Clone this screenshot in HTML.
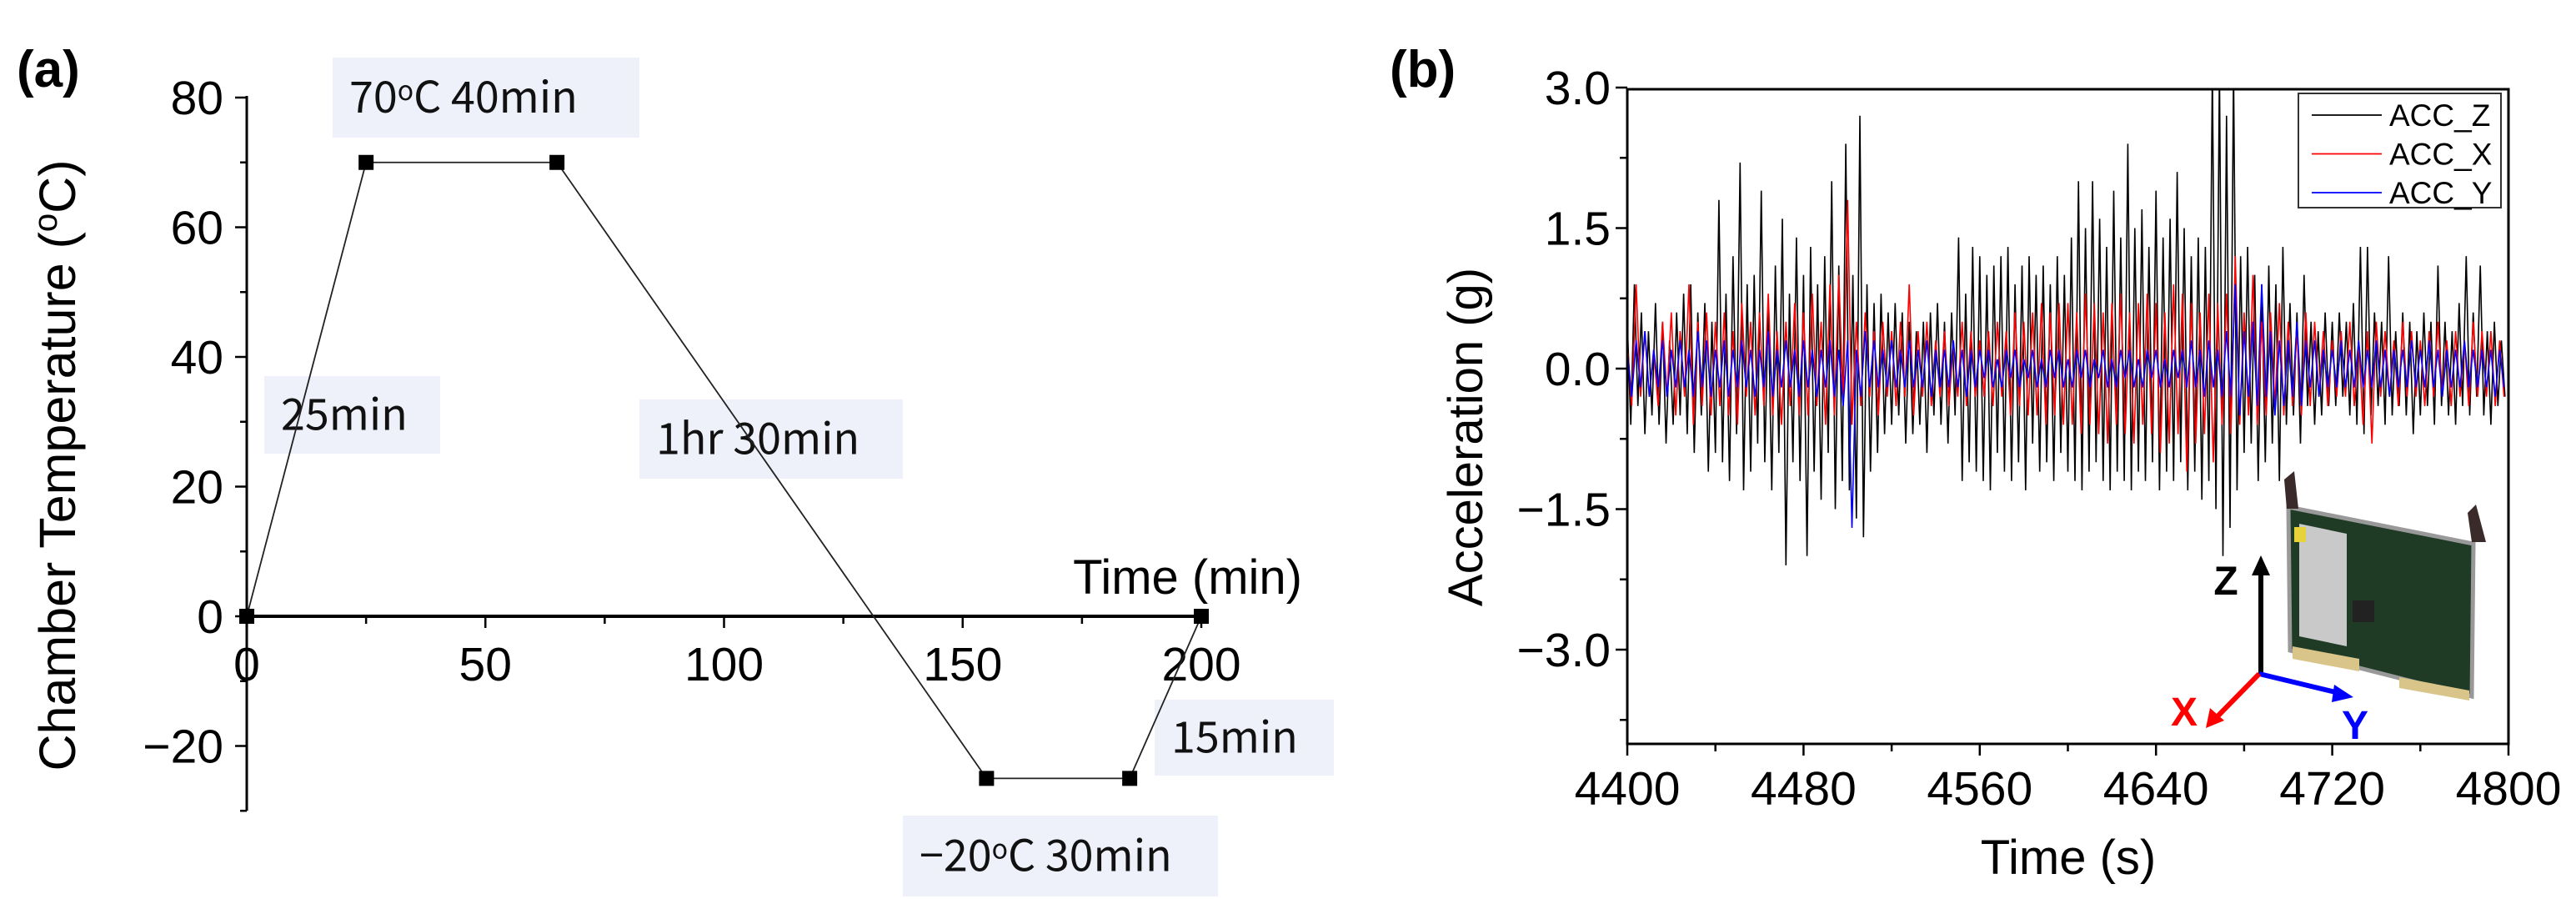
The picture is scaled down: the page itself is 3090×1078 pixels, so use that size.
<!DOCTYPE html>
<html><head><meta charset="utf-8"><style>
html,body{margin:0;padding:0;background:#fff;}
svg{display:block;}
text{font-family:"Liberation Sans",sans-serif;}
.ann{font-family:"Noto Sans CJK KR","Liberation Sans",sans-serif;font-size:52px;fill:#111;}
</style></head><body>
<svg id="fig" width="3090" height="1078" viewBox="0 0 3090 1078" xmlns="http://www.w3.org/2000/svg">
<defs><clipPath id="clipB"><rect x="1952" y="107" width="1057" height="785"/></clipPath></defs>
<g id="pa"></g>
<g id="pb"></g>
</svg>
<script>
// ---------- Panel (a) data ----------
const tempTimes = [0, 25, 65, 155, 185, 200];
const tempValues = [0, 70, 70, -25, -25, 0];
const aXTicks = [0, 50, 100, 150, 200];
const aYTicks = [-20, 0, 20, 40, 60, 80];
const aYTickLabels = ["\u221220", "0", "20", "40", "60", "80"];

// ---------- Panel (b) data ----------
const bXTicks = [4400, 4480, 4560, 4640, 4720, 4800];
const bYTicks = [-3.0, -1.5, 0.0, 1.5, 3.0];
const bYTickLabels = ["\u22123.0", "\u22121.5", "0.0", "1.5", "3.0"];
const accZStart = 4400, accZStep = 1.6;
const accZ = [0.5,-0.6,0.9,-0.4,0.6,-0.7,0.4,-0.5,0.7,-0.6,0.5,-0.8,0.3,-0.6,0.6,-0.5,0.8,-0.7,0.9,-0.9,0.6,-0.5,0.7,-1.1,0.5,
-0.9,1.8,-1.0,0.8,-1.2,1.2,-0.7,2.2,-1.3,0.9,-1.1,1.0,-0.8,1.9,-1.0,0.7,-1.3,1.1,-0.9,1.6,-2.1,0.8,-1.0,1.4,-1.2,
1.0,-2.0,1.3,-1.1,0.9,-1.4,1.2,-0.9,2.0,-1.5,1.1,-1.2,2.4,-1.3,1.0,-1.6,2.7,-1.8,0.9,-1.1,0.7,-0.9,0.8,-0.7,0.6,
-0.6,0.7,-0.5,0.6,-0.8,0.5,-0.7,0.4,-0.6,0.5,-0.9,0.6,-0.5,0.7,-0.6,0.5,-0.8,0.6,-0.5,1.4,-1.2,0.8,-1.0,1.3,-1.1,
1.2,-1.2,1.0,-1.3,1.1,-0.9,1.2,-1.1,1.3,-1.2,0.9,-1.0,1.1,-1.3,1.2,-0.8,1.0,-1.1,1.1,-1.0,0.9,-1.2,1.2,-0.9,1.0,
-1.1,1.4,-1.2,2.0,-1.3,1.5,-1.1,2.0,-1.0,1.6,-1.2,1.3,-1.3,1.9,-1.1,1.4,-1.2,2.4,-1.3,1.5,-1.1,1.7,-1.2,1.3,-1.0,
1.9,-1.3,1.4,-1.1,1.6,-1.2,2.1,-1.0,1.5,-1.3,1.2,-1.1,1.4,-1.4,1.3,-1.2,3.2,-1.5,3.2,-2.0,2.7,-1.7,3.2,-1.3,1.2,
-0.9,1.3,-0.8,1.0,-1.2,0.9,-1.0,1.1,-0.8,0.9,-1.2,1.3,-0.6,0.7,-0.5,0.6,-0.8,1.0,-0.4,0.5,-0.6,0.4,-0.5,0.6,-0.4,
0.5,-0.4,0.6,-0.3,0.5,-0.5,0.7,-0.6,1.3,-0.7,1.3,-0.5,0.6,-0.4,0.5,-0.6,1.2,-0.5,0.4,-0.4,0.6,-0.5,0.5,-0.7,0.4,
-0.5,0.6,-0.4,0.5,-0.6,1.1,-0.4,0.5,-0.5,0.4,-0.6,0.7,-0.4,1.2,-0.5,0.6,-0.3,1.1,-0.5,0.4,-0.6,0.5,-0.4,0.3,-0.3];
const accXStart = 4400, accXStep = 2.0;
const accX = [0.3,-0.4,0.9,-0.3,0.4,-0.3,0.2,-0.4,0.5,-0.3,0.6,-0.5,0.4,-0.3,0.9,-0.6,0.5,-0.4,0.6,-0.5,
0.5,-0.4,0.6,-0.5,0.4,-0.6,0.7,-0.3,0.5,-0.5,0.6,-0.4,0.8,-0.5,0.4,-0.6,0.5,-0.4,0.7,-0.5,
0.6,-0.5,0.8,-0.4,0.5,-0.6,0.9,-0.5,1.0,-0.4,1.8,-0.6,0.5,-0.4,0.6,-0.3,0.4,-0.5,0.5,-0.3,
0.4,-0.4,0.5,-0.3,0.9,-0.5,0.4,-0.3,0.5,-0.4,0.3,-0.3,0.4,-0.4,0.3,-0.3,0.5,-0.4,0.4,-0.3,
0.3,-0.3,0.4,-0.4,0.5,-0.3,0.4,-0.5,0.6,-0.4,0.5,-0.5,0.6,-0.5,0.7,-0.6,0.6,-0.5,0.7,-0.6,
0.7,-0.6,0.6,-0.7,0.8,-0.6,0.7,-0.7,0.6,-0.8,0.7,-0.6,0.8,-0.7,0.6,-0.8,0.7,-0.6,0.8,-0.7,
0.7,-0.9,0.6,-0.8,0.9,-0.7,0.8,-1.1,0.7,-0.8,0.6,-0.7,0.8,-1.0,0.7,-0.6,0.8,-0.7,1.2,-0.6,
0.6,-0.5,1.0,-0.6,0.5,-0.5,0.6,-0.4,0.7,-0.5,0.5,-0.4,0.4,-0.5,0.6,-0.4,0.5,-0.3,0.4,-0.4,
0.3,-0.3,0.4,-0.3,0.5,-0.4,0.3,-0.6,0.4,-0.8,0.5,-0.3,0.4,-0.3,0.3,-0.4,0.5,-0.3,0.4,-0.3,
0.3,-0.4,0.4,-0.3,0.5,-0.3,0.3,-0.4,0.4,-0.3,0.3,-0.4,0.5,-0.3,0.4,-0.3,0.4,-0.4,0.3,-0.3];
const accYStart = 4400, accYStep = 2.0;
const accY = [0.2,-0.3,0.3,-0.2,0.4,-0.3,0.2,-0.2,0.3,-0.3,0.2,-0.2,0.3,-0.2,0.2,-0.3,0.4,-0.2,0.3,-0.3,
0.2,-0.2,0.3,-0.3,0.2,-0.2,0.3,-0.2,0.2,-0.3,0.2,-0.2,0.4,-0.3,0.2,-0.2,0.3,-0.2,0.2,-0.3,
0.3,-0.2,0.2,-0.3,0.2,-0.2,0.3,-0.3,0.2,-0.4,0.3,-1.7,0.2,-0.3,0.4,-0.2,0.3,-0.2,0.2,-0.2,
0.3,-0.2,0.2,-0.2,0.3,-0.2,0.2,-0.2,0.3,-0.3,0.2,-0.2,0.2,-0.2,0.3,-0.2,0.2,-0.3,0.2,-0.2,
0.2,-0.1,0.2,-0.2,0.1,-0.2,0.2,-0.1,0.2,-0.2,0.1,-0.1,0.2,-0.2,0.1,-0.2,0.2,-0.1,0.2,-0.2,
0.1,-0.2,0.2,-0.1,0.2,-0.2,0.1,-0.1,0.2,-0.2,0.1,-0.2,0.2,-0.1,0.2,-0.2,0.1,-0.2,0.2,-0.1,
0.2,-0.2,0.1,-0.2,0.2,-0.1,0.2,-0.2,0.3,-0.2,0.2,-0.3,0.3,-0.2,0.2,-0.3,0.4,-0.3,0.9,-0.5,
0.4,-0.3,0.5,-0.4,0.9,-0.3,0.4,-0.5,0.3,-0.4,0.3,-0.3,0.5,-0.4,0.3,-0.2,0.3,-0.3,0.2,-0.2,
0.2,-0.2,0.3,-0.2,0.2,-0.2,0.3,-0.2,0.2,-0.2,0.3,-0.2,0.2,-0.3,0.2,-0.2,0.2,-0.2,0.3,-0.2,
0.2,-0.2,0.3,-0.2,0.2,-0.3,0.2,-0.2,0.2,-0.2,0.3,-0.2,0.2,-0.2,0.2,-0.2,0.2,-0.3,0.2,-0.2];
const seriesNames = ["ACC_Z", "ACC_X", "ACC_Y"];

const NS = "http://www.w3.org/2000/svg";
function mk(parent, tag, attrs, text) {
  const e = document.createElementNS(NS, tag);
  for (const k in attrs) e.setAttribute(k, attrs[k]);
  if (text !== undefined) e.textContent = text;
  parent.appendChild(e);
  return e;
}

// ===== Panel A =====
const pa = document.getElementById('pa');
const ax = v => 296 + (v - 0) * (1441 - 296) / 200;
const ay = v => 739 - v * (622 / 80);

const anns = [
  [399, 69, 368, 96, "70\u00B0C 40min", "annotation-70c-40min"],
  [317, 451, 211, 93, "25min", "annotation-25min"],
  [767, 479, 316, 95, "1hr 30min", "annotation-1hr-30min"],
  [1385, 839, 215, 91, "15min", "annotation-15min"],
  [1083, 978, 378, 97, "\u221220\u00B0C 30min", "annotation-minus20c-30min"]
];
anns.forEach(a => {
  const g = mk(pa, 'g', {});
  
  
  mk(g, 'rect', {x: a[0], y: a[1], width: a[2], height: a[3], fill: '#eef0fa'});
  const t = mk(g, 'text', {x: a[0] + 20, y: a[1] + a[3] / 2 + 18, class: 'ann'}, a[4]);
  if (a[4].indexOf('\u00B0') >= 0) {
    t.textContent = '';
    const parts = a[4].split('\u00B0');
    mk(t, 'tspan', {}, parts[0]);
    mk(t, 'tspan', {dy: -15, 'font-size': 32}, 'o');
    mk(t, 'tspan', {dy: 15}, parts[1]);
  }
});

const yaxis = mk(pa, 'g', {});


mk(yaxis, 'line', {x1: 296, y1: ay(80) - 2, x2: 296, y2: ay(-30), stroke: '#000', 'stroke-width': 3});
for (let v = -30; v <= 80; v += 10) {
  const major = aYTicks.indexOf(v) >= 0;
  mk(yaxis, 'line', {x1: major ? 282 : 288, y1: ay(v), x2: 296, y2: ay(v), stroke: '#000', 'stroke-width': 2.5});
}
aYTicks.forEach((v, i) => {
  const t = mk(yaxis, 'text', {x: 268, y: ay(v) + 20, 'text-anchor': 'end', 'font-size': 57}, aYTickLabels[i]);
  
  
});
const xaxis = mk(pa, 'g', {});


mk(xaxis, 'line', {x1: ax(0), y1: ay(0), x2: ax(200), y2: ay(0), stroke: '#000', 'stroke-width': 4});
for (let v = 0; v <= 200; v += 25) {
  const major = aXTicks.indexOf(v) >= 0;
  mk(xaxis, 'line', {x1: ax(v), y1: ay(0), x2: ax(v), y2: ay(0) + (major ? 14 : 9), stroke: '#000', 'stroke-width': 2.5});
}
aXTicks.forEach(v => {
  const t = mk(xaxis, 'text', {x: ax(v), y: 816, 'text-anchor': 'middle', 'font-size': 57}, String(v));
  
  
});
const xt = mk(pa, 'text', {x: 1562, y: 712, 'text-anchor': 'end', 'font-size': 58}, 'Time (min)');


const yt = mk(pa, 'text', {x: 0, y: 0, 'text-anchor': 'middle', 'font-size': 61, transform: 'translate(90,558) rotate(-90)'});


mk(yt, 'tspan', {}, 'Chamber Temperature (');
mk(yt, 'tspan', {dy: -22, 'font-size': 40}, 'o');
mk(yt, 'tspan', {dy: 22}, 'C)');
const la = mk(pa, 'text', {x: 20, y: 104, 'font-size': 62, 'font-weight': 'bold'}, '(a)');



const tpts = tempTimes.map((t, i) => ax(t) + ',' + ay(tempValues[i])).join(' ');
const tl = mk(pa, 'polyline', {points: tpts, fill: 'none', stroke: '#222', 'stroke-width': 1.8});


tempTimes.forEach((t, i) => {
  const m = mk(pa, 'rect', {x: ax(t) - 9, y: ay(tempValues[i]) - 9, width: 18, height: 18, fill: '#000'});
  
  
});

// ===== Panel B =====
const pb = document.getElementById('pb');
const bx = v => 1952 + (v - 4400) * (3009 - 1952) / 400;
const by = v => 442 - v * (168.5 / 1.5);

const lb = mk(pb, 'text', {x: 1667, y: 104, 'font-size': 62, 'font-weight': 'bold'}, '(b)');



const series = [[accZ, accZStart, accZStep, '#000', 'acc-z-line'], [accX, accXStart, accXStep, '#ff0000', 'acc-x-line'], [accY, accYStart, accYStep, '#0000ff', 'acc-y-line']];
const clipG = mk(pb, 'g', {'clip-path': 'url(#clipB)'});
series.forEach(s => {
  const pts = s[0].map((v, i) => bx(s[1] + i * s[2]).toFixed(1) + ',' + by(v).toFixed(1)).join(' ');
  const pl = mk(clipG, 'polyline', {points: pts, fill: 'none', stroke: s[3], 'stroke-width': 1.6});
  
  
});

const fr = mk(pb, 'rect', {x: 1952, y: 107, width: 1057, height: 785, fill: 'none', stroke: '#000', 'stroke-width': 3});


for (let v = 4400; v <= 4800; v += 40) {
  const major = bXTicks.indexOf(v) >= 0;
  mk(pb, 'line', {x1: bx(v), y1: 892, x2: bx(v), y2: 892 + (major ? 14 : 9), stroke: '#000', 'stroke-width': 2.5});
}
bXTicks.forEach(v => {
  const t = mk(pb, 'text', {x: bx(v), y: 965, 'text-anchor': 'middle', 'font-size': 57}, String(v));
  
  
});
for (let k = -5; k <= 4; k++) {
  const v = k * 0.75;
  if (v < -4 || v > 3) continue;
  const major = k % 2 === 0;
  mk(pb, 'line', {x1: 1952 - (major ? 14 : 9), y1: by(v), x2: 1952, y2: by(v), stroke: '#000', 'stroke-width': 2.5});
}
bYTicks.forEach((v, i) => {
  const t = mk(pb, 'text', {x: 1932, y: by(v) + 20, 'text-anchor': 'end', 'font-size': 57}, bYTickLabels[i]);
  
  
});
const bxt = mk(pb, 'text', {x: 2481, y: 1048, 'text-anchor': 'middle', 'font-size': 58}, 'Time (s)');


const byt = mk(pb, 'text', {x: 0, y: 0, 'text-anchor': 'middle', 'font-size': 58, transform: 'translate(1778,524) rotate(-90)'}, 'Acceleration (g)');



const lg = mk(pb, 'g', {});


mk(lg, 'rect', {x: 2757, y: 112, width: 243, height: 137, fill: '#fff', stroke: '#333', 'stroke-width': 2});
const legColors = ['#000', '#ff0000', '#0000ff'];
seriesNames.forEach((n, i) => {
  const ly = 138 + i * 46.5;
  const e = mk(lg, 'g', {});
  
  
  mk(e, 'line', {x1: 2773, y1: ly, x2: 2857, y2: ly, stroke: legColors[i], 'stroke-width': 1.8});
  mk(e, 'text', {x: 2866, y: ly + 13, 'font-size': 37}, n);
});

const ins = mk(pb, 'g', {});


mk(ins, 'polygon', {points: '2745,608 2967,652 2965,835 2747,780', fill: '#1f3a25', stroke: '#999', 'stroke-width': 5});
mk(ins, 'polygon', {points: '2758,628 2815,640 2815,775 2758,763', fill: '#c9c9c9'});
mk(ins, 'polygon', {points: '2750,775 2830,790 2830,805 2750,790', fill: '#d9c48a'});
mk(ins, 'polygon', {points: '2878,812 2962,828 2962,840 2878,825', fill: '#d9c48a'});
mk(ins, 'rect', {x: 2752, y: 632, width: 14, height: 18, fill: '#e8d23a'});
mk(ins, 'rect', {x: 2822, y: 720, width: 26, height: 26, fill: '#222'});
mk(ins, 'polygon', {points: '2740,575 2752,565 2757,610 2743,610', fill: '#3a2a2a'});
mk(ins, 'polygon', {points: '2960,615 2970,605 2982,650 2965,650', fill: '#3a2a2a'});
mk(ins, 'line', {x1: 2712, y1: 808, x2: 2712, y2: 680, stroke: '#000', 'stroke-width': 6});
mk(ins, 'polygon', {points: '2712,666 2701,690 2723,690', fill: '#000'});
mk(ins, 'line', {x1: 2710, y1: 808, x2: 2810, y2: 832, stroke: '#0000ff', 'stroke-width': 6});
mk(ins, 'polygon', {points: '2823,836 2800,821 2797,842', fill: '#0000ff'});
mk(ins, 'line', {x1: 2710, y1: 808, x2: 2657, y2: 862, stroke: '#ff0000', 'stroke-width': 6});
mk(ins, 'polygon', {points: '2646,873 2651,849 2668,864', fill: '#ff0000'});
mk(ins, 'text', {x: 2670, y: 713, 'text-anchor': 'middle', 'font-size': 48, 'font-weight': 'bold'}, 'Z');
mk(ins, 'text', {x: 2620, y: 870, 'text-anchor': 'middle', 'font-size': 48, 'font-weight': 'bold', fill: '#ff0000'}, 'X');
mk(ins, 'text', {x: 2825, y: 886, 'text-anchor': 'middle', 'font-size': 48, 'font-weight': 'bold', fill: '#0000ff'}, 'Y');
</script>
</body></html>
